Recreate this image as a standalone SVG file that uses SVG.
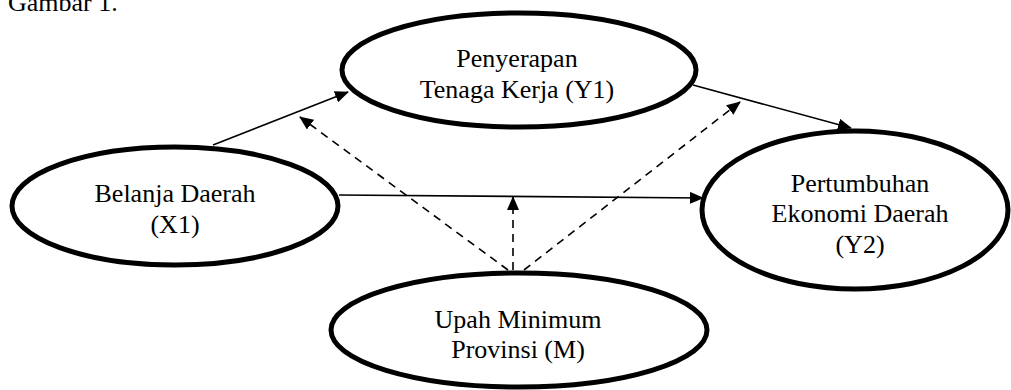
<svg xmlns="http://www.w3.org/2000/svg" width="1011" height="390" viewBox="0 0 1011 390">
<defs>
<marker id="ah" viewBox="0 0 14 12" refX="13" refY="6" markerWidth="14" markerHeight="12" markerUnits="userSpaceOnUse" orient="auto">
<path d="M0,0 L14,6 L0,12 Z" fill="#000"/>
</marker>
<style>
.node ellipse{fill:#fff;stroke:#000;stroke-width:5}
text{font-family:"Liberation Serif","Times New Roman",serif;font-size:26px;fill:#000;text-anchor:middle}
.solid{stroke:#000;stroke-width:1.6;fill:none;marker-end:url(#ah)}
.dash{stroke:#000;stroke-width:1.6;fill:none;stroke-dasharray:8 6;marker-end:url(#ah)}
</style>
</defs>
<rect width="1011" height="390" fill="#fff"/>
<text x="8" y="11" style="text-anchor:start">Gambar 1.</text>
<g id="connectors">
<line class="solid" x1="213" y1="145" x2="348" y2="92"/>
<line class="solid" x1="693" y1="85" x2="851" y2="128"/>
<line class="solid" x1="339" y1="195" x2="703" y2="198"/>
<line class="dash" x1="508" y1="270" x2="300" y2="117"/>
<line class="dash" x1="524" y1="270" x2="740" y2="102"/>
<line class="dash" x1="513" y1="270" x2="513" y2="197"/>
</g>
<g id="node-y1" class="node">
<ellipse cx="519" cy="70" rx="177" ry="57"/>
<text x="517" y="67">Penyerapan</text>
<text x="517" y="98">Tenaga Kerja (Y1)</text>
</g>
<g id="node-x1" class="node">
<ellipse cx="175" cy="206" rx="163" ry="59"/>
<text x="175" y="202">Belanja Daerah</text>
<text x="175" y="233">(X1)</text>
</g>
<g id="node-y2" class="node">
<ellipse cx="855" cy="210" rx="153" ry="79"/>
<text x="860" y="192">Pertumbuhan</text>
<text x="860" y="222">Ekonomi Daerah</text>
<text x="860" y="253">(Y2)</text>
</g>
<g id="node-m" class="node">
<ellipse cx="519" cy="330" rx="188" ry="57"/>
<text x="518" y="328">Upah Minimum</text>
<text x="518" y="358">Provinsi (M)</text>
</g>
</svg>
